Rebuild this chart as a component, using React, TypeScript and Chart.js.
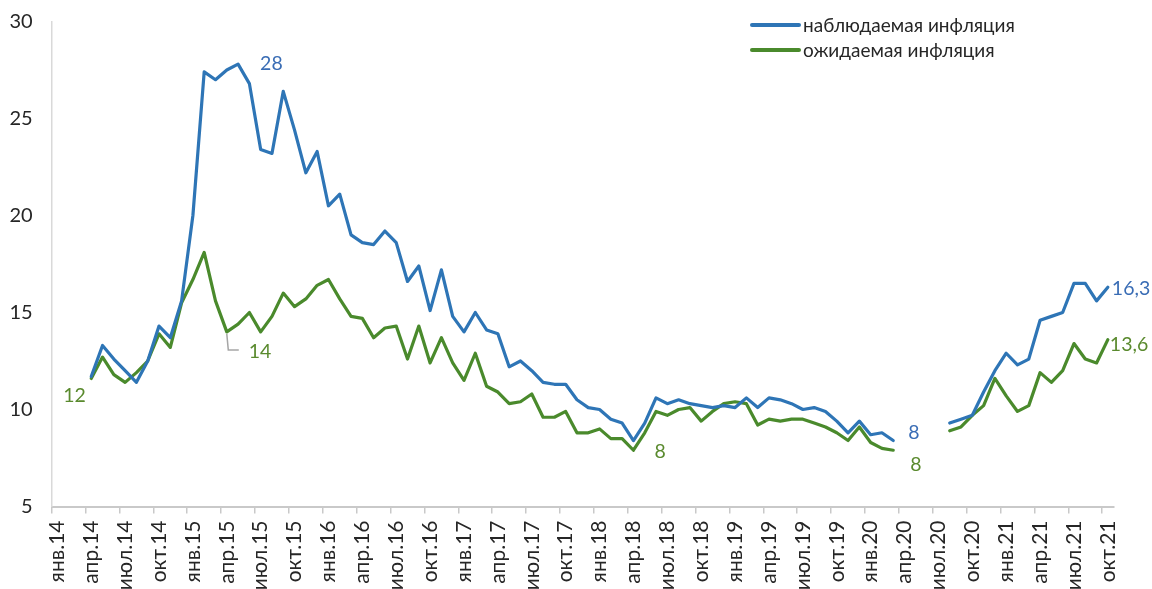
import React, { useEffect, useRef } from 'react';
import { Chart, registerables } from 'chart.js';

Chart.register(...registerables);

// ---- categories ----
const MONTHS = ['янв', 'фев', 'мар', 'апр', 'май', 'июн', 'июл', 'авг', 'сен', 'окт', 'ноя', 'дек'];
const YEARS = ['14', '15', '16', '17', '18', '19', '20', '21'];
const MONTH_COUNT = 94; // янв.14 … окт.21
const categories: string[] = YEARS.flatMap((y) => MONTHS.map((m) => `${m}.${y}`)).slice(0, MONTH_COUNT);

// ---- наблюдаемая инфляция (observed) ----
const observed2014 = [null, null, null, 11.7, 13.3, 12.6, 12.0, 11.4, 12.5, 14.3, 13.7, 15.6];
const observed2015 = [20.0, 27.4, 27.0, 27.5, 27.8, 26.8, 23.4, 23.2, 26.4, 24.4, 22.2, 23.3];
const observed2016 = [20.5, 21.1, 19.0, 18.6, 18.5, 19.2, 18.6, 16.6, 17.4, 15.1, 17.2, 14.8];
const observed2017 = [14.0, 15.0, 14.1, 13.9, 12.2, 12.5, 12.0, 11.4, 11.3, 11.3, 10.5, 10.1];
const observed2018 = [10.0, 9.5, 9.3, 8.4, 9.3, 10.6, 10.3, 10.5, 10.3, 10.2, 10.1, 10.2];
const observed2019 = [10.1, 10.6, 10.1, 10.6, 10.5, 10.3, 10.0, 10.1, 9.9, 9.4, 8.8, 9.4];
const observed2020 = [8.7, 8.8, 8.4, null, null, null, null, 9.3, 9.5, 9.7, 10.9, 12.0];
const observed2021 = [12.9, 12.3, 12.6, 14.6, 14.8, 15.0, 16.5, 16.5, 15.6, 16.3];

// ---- ожидаемая инфляция (expected) ----
const expected2014 = [null, null, null, 11.6, 12.7, 11.8, 11.4, 11.9, 12.5, 13.9, 13.2, 15.5];
const expected2015 = [16.7, 18.1, 15.6, 14.0, 14.4, 15.0, 14.0, 14.8, 16.0, 15.3, 15.7, 16.4];
const expected2016 = [16.7, 15.7, 14.8, 14.7, 13.7, 14.2, 14.3, 12.6, 14.3, 12.4, 13.7, 12.4];
const expected2017 = [11.5, 12.9, 11.2, 10.9, 10.3, 10.4, 10.8, 9.6, 9.6, 9.9, 8.8, 8.8];
const expected2018 = [9.0, 8.5, 8.5, 7.9, 8.8, 9.9, 9.7, 10.0, 10.1, 9.4, 9.9, 10.3];
const expected2019 = [10.4, 10.3, 9.2, 9.5, 9.4, 9.5, 9.5, 9.3, 9.1, 8.8, 8.4, 9.1];
const expected2020 = [8.3, 8.0, 7.9, null, null, null, null, 8.9, 9.1, 9.7, 10.2, 11.6];
const expected2021 = [10.7, 9.9, 10.2, 11.9, 11.4, 12.0, 13.4, 12.6, 12.4, 13.6];

const observed = [
  ...observed2014, ...observed2015, ...observed2016, ...observed2017,
  ...observed2018, ...observed2019, ...observed2020, ...observed2021,
];
const expected = [
  ...expected2014, ...expected2015, ...expected2016, ...expected2017,
  ...expected2018, ...expected2019, ...expected2020, ...expected2021,
];

const SERIES_NAMES = ['наблюдаемая инфляция', 'ожидаемая инфляция'];

// ---- y axis ----
const Y_MIN = 5;
const Y_MAX = 30;
const Y_STEP = 5;

// ---- styles ----
const BLUE = '#2E75B6';
const GREEN = '#4A8A2C';
const BLUE_TEXT = '#3A6DB5';
const GREEN_TEXT = '#5A8A2E';
const TEXT = '#262626';
const AXIS = '#C9C9C9';
const FONT = 'Lato, "Noto Sans", sans-serif';

// which points get a value label (dataset index, category index, decimals, placement)
const VALUE_LABELS = [
  { ds: 0, idx: 16, dec: 0, dx: 22, dy: 0, color: BLUE_TEXT, leader: false },
  { ds: 1, idx: 15, dec: 0, dx: 22, dy: 20, color: GREEN_TEXT, leader: true },
  { ds: 1, idx: 3, dec: 0, dx: -28, dy: 17, color: GREEN_TEXT, leader: false },
  { ds: 1, idx: 51, dec: 0, dx: 21, dy: 1, color: GREEN_TEXT, leader: false },
  { ds: 0, idx: 74, dec: 0, dx: 15, dy: -8, color: BLUE_TEXT, leader: false },
  { ds: 1, idx: 74, dec: 0, dx: 17, dy: 14, color: GREEN_TEXT, leader: false },
  { ds: 0, idx: 93, dec: 1, dx: 4, dy: 1, color: BLUE_TEXT, leader: false },
  { ds: 1, idx: 93, dec: 1, dx: 2, dy: 5, color: GREEN_TEXT, leader: false },
];

const CANVAS_W = 1152;
const CANVAS_H = 640;
const PLOT_LEFT = 51.7;
const PLOT_RIGHT = 1113.5;
const PLOT_TOP = 21.5;
const PLOT_BOTTOM = 506.5;

const fmt = (v: number, dec: number) => v.toFixed(dec).replace('.', ',');

const valueLabelPlugin = {
  id: 'valueLabels',
  afterDatasetsDraw(chart: any) {
    const { ctx } = chart;
    const xs = chart.scales.x;
    const ys = chart.scales.y;
    ctx.save();
    ctx.font = `19.5px ${FONT}`;
    ctx.textBaseline = 'middle';
    ctx.textAlign = 'left';
    for (const l of VALUE_LABELS) {
      const v = chart.data.datasets[l.ds].data[l.idx] as number;
      const px = xs.getPixelForValue(l.idx);
      const py = ys.getPixelForValue(v);
      if (l.leader) {
        ctx.strokeStyle = '#A6A6A6';
        ctx.lineWidth = 1.5;
        ctx.beginPath();
        ctx.moveTo(px, py + 2);
        ctx.lineTo(px + 1.5, py + l.dy - 2);
        ctx.lineTo(px + l.dx - 10, py + l.dy - 2);
        ctx.stroke();
      }
      ctx.fillStyle = l.color;
      ctx.fillText(fmt(v, l.dec), px + l.dx, py + l.dy);
    }
    ctx.restore();
  },
};

const legendPlugin = {
  id: 'customLegend',
  afterDraw(chart: any) {
    const { ctx } = chart;
    const items = chart.data.datasets;
    ctx.save();
    ctx.font = `19px ${FONT}`;
    ctx.textBaseline = 'middle';
    ctx.textAlign = 'left';
    items.forEach((ds: any, i: number) => {
      const yy = 25 + i * 25;
      ctx.strokeStyle = ds.borderColor;
      ctx.lineWidth = 4;
      ctx.lineCap = 'round';
      ctx.beginPath();
      ctx.moveTo(752, yy);
      ctx.lineTo(799, yy);
      ctx.stroke();
      ctx.fillStyle = TEXT;
      ctx.fillText(ds.label, 803, yy + 1);
    });
    ctx.restore();
  },
};

export default function App() {
  const ref = useRef<HTMLCanvasElement | null>(null);

  useEffect(() => {
    if (!ref.current) return;
    const chart = new Chart(ref.current, {
      type: 'line',
      data: {
        labels: categories,
        datasets: [
          {
            label: SERIES_NAMES[0],
            data: observed,
            borderColor: BLUE,
            backgroundColor: BLUE,
            borderWidth: 3.2,
            pointRadius: 0,
            tension: 0,
            spanGaps: false,
            borderJoinStyle: 'round',
            borderCapStyle: 'round',
          },
          {
            label: SERIES_NAMES[1],
            data: expected,
            borderColor: GREEN,
            backgroundColor: GREEN,
            borderWidth: 3.2,
            pointRadius: 0,
            tension: 0,
            spanGaps: false,
            borderJoinStyle: 'round',
            borderCapStyle: 'round',
          },
        ],
      },
      options: {
        animation: false,
        responsive: false,
        devicePixelRatio: 1,
        layout: {
          padding: { left: 0, right: CANVAS_W - PLOT_RIGHT, top: PLOT_TOP, bottom: 0 },
        },
        plugins: {
          legend: { display: false },
          tooltip: { enabled: false },
        },
        scales: {
          x: {
            type: 'category',
            offset: true,
            grid: {
              display: true,
              offset: true,
              drawOnChartArea: false,
              drawTicks: true,
              tickLength: 7,
              lineWidth: 1.5,
              color: (c: any) => (c.index % 3 === 0 ? AXIS : 'rgba(0,0,0,0)'),
              tickColor: (c: any) => (c.index % 3 === 0 ? AXIS : 'rgba(0,0,0,0)'),
            },
            border: { display: true, color: AXIS, width: 2 },
            ticks: {
              autoSkip: false,
              maxRotation: 90,
              minRotation: 90,
              padding: 7,
              color: TEXT,
              font: { family: FONT, size: 21 },
              callback: (_v: any, i: number) => (i % 3 === 0 ? categories[i] : ''),
            },
            afterFit: (scale: any) => {
              scale.height = CANVAS_H - PLOT_BOTTOM;
              scale.paddingLeft = 0;
              scale.paddingRight = 0;
              scale.paddingTop = 0;
              scale.paddingBottom = 0;
            },
          },
          y: {
            min: Y_MIN,
            max: Y_MAX,
            grid: { display: false },
            border: { display: true, color: '#D9D9D9', width: 1.5 },
            ticks: {
              stepSize: Y_STEP,
              padding: 11,
              color: TEXT,
              font: { family: FONT, size: 20 },
            },
            afterFit: (scale: any) => {
              scale.width = PLOT_LEFT;
              scale.paddingTop = 0;
              scale.paddingBottom = 0;
              scale.paddingLeft = 0;
              scale.paddingRight = 0;
            },
          },
        },
      },
      plugins: [valueLabelPlugin, legendPlugin],
    } as any);
    return () => chart.destroy();
  }, []);

  return (
    <div
      style={{
        position: 'fixed',
        left: 0,
        top: 0,
        width: CANVAS_W,
        height: 589,
        overflow: 'hidden',
        background: '#fff',
      }}
    >
      <canvas ref={ref} width={CANVAS_W} height={CANVAS_H} style={{ display: 'block' }} />
    </div>
  );
}
